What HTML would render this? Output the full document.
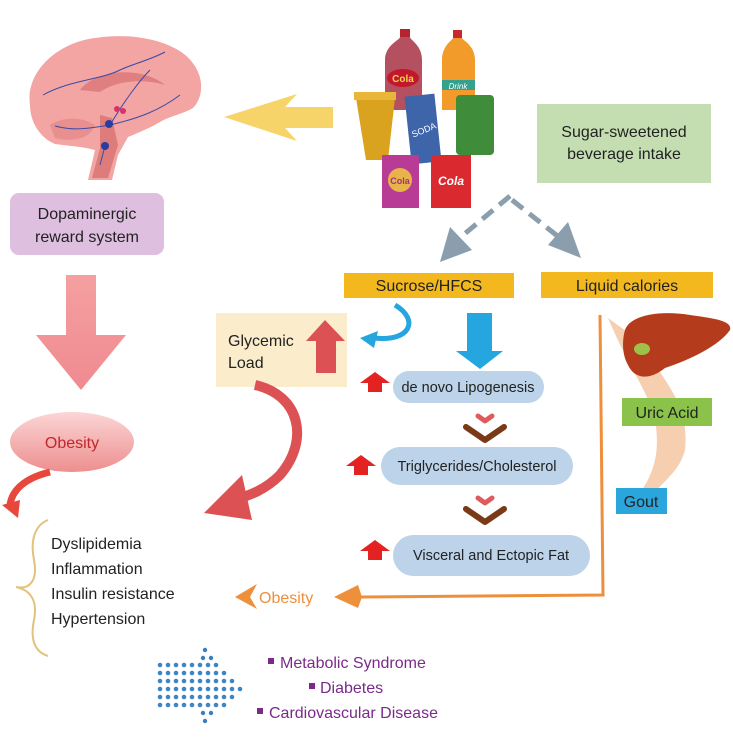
<!DOCTYPE html>
<html><head><meta charset="utf-8"><style>
html,body{margin:0;padding:0;background:#fff;}
svg{display:block;font-family:"Liberation Sans",sans-serif;}
</style></head><body>
<svg width="733" height="738" viewBox="0 0 733 738" xmlns="http://www.w3.org/2000/svg">
<defs>
<linearGradient id="ob" x1="0" y1="0" x2="0" y2="1"><stop offset="0" stop-color="#fbd6d6"/><stop offset="1" stop-color="#ee8e8e"/></linearGradient>
<linearGradient id="pk" x1="0" y1="0" x2="0" y2="1"><stop offset="0" stop-color="#f5a0a0"/><stop offset="1" stop-color="#ef8a90"/></linearGradient>
</defs>
<!-- Brain -->
<path d="M30,105 C25,70 60,42 95,38 C130,32 175,40 192,62 C205,78 203,98 193,108 C183,114 170,116 160,122 C150,128 140,132 128,137 L118,155 L112,180 L88,180 L95,150 C85,147 70,146 55,144 C40,138 30,122 30,105 Z" fill="#f3a5a3"/>
<path d="M80,90 C95,70 140,65 165,85 C150,80 120,78 100,92 Z" fill="#e07f7f"/>
<path d="M100,115 L112,118 L118,145 L108,178 L92,178 L100,148 Z" fill="#de7c7c"/>
<path d="M50,125 C60,118 80,115 95,125 C90,140 70,142 55,138 Z" fill="#e8908f"/>
<g stroke="#3a4aa8" stroke-width="1" fill="none">
<path d="M43,95 C70,80 100,80 120,70 C130,65 150,60 165,52"/><path d="M110,125 C125,100 140,80 150,70"/><path d="M110,125 C80,130 70,130 55,126"/><path d="M105,146 L100,165"/><path d="M110,125 C140,118 160,110 180,95"/>
</g>
<circle cx="109" cy="124" r="4" fill="#2a3ca0"/><circle cx="105" cy="146" r="4" fill="#2a3ca0"/><circle cx="117" cy="109" r="3" fill="#d8326a"/><circle cx="123" cy="111" r="3" fill="#d8326a"/>
<!-- yellow arrow -->
<polygon points="224,117 297,94 285,107 333,107 333,128 285,128 297,141" fill="#f7d469"/>
<!-- dopaminergic -->
<rect x="10" y="193" width="154" height="62" rx="9" fill="#dfbfe0"/>
<text x="87" y="219" font-size="16" text-anchor="middle" fill="#222">Dopaminergic</text>
<text x="87" y="242" font-size="16" text-anchor="middle" fill="#222">reward system</text>
<!-- pink down arrow -->
<polygon points="66,275 96,275 96,335 126,335 81,390 36,335 66,335" fill="url(#pk)"/>
<!-- obesity ellipse -->
<ellipse cx="72" cy="442" rx="62" ry="30" fill="url(#ob)"/>
<text x="72" y="448" font-size="16" text-anchor="middle" fill="#c0272d">Obesity</text>
<path d="M50,472 C25,478 12,490 10,505" stroke="#e8483b" stroke-width="7" fill="none"/>
<polygon points="2,505 20,500 18,518" fill="#e8483b"/>
<!-- brace -->
<path d="M48,520 C35,525 30,540 34,560 C38,580 30,590 16,587 C30,590 38,600 34,620 C30,640 35,652 48,656" stroke="#e3c27a" stroke-width="2" fill="none"/>
<g font-size="16" fill="#222">
<text x="51" y="549">Dyslipidemia</text><text x="51" y="574">Inflammation</text><text x="51" y="599">Insulin resistance</text><text x="51" y="624">Hypertension</text>
</g>
<!-- orange -->
<polygon points="235,597 257,584 250,597 257,609" fill="#ee8f3c"/>
<text x="259" y="603" font-size="16" fill="#ee8f3c">Obesity</text>
<path d="M600,315 L603,595 L360,597" stroke="#ee8f3c" stroke-width="3" fill="none"/>
<polygon points="334,597 358,585 362,597 358,608" fill="#ee8f3c"/>
<!-- dots arrow -->
<g fill="#3a7dc0">
<circle cx="205" cy="650" r="2.2"/><circle cx="203" cy="658" r="2.2"/><circle cx="211" cy="658" r="2.2"/>
<circle cx="205" cy="721" r="2.2"/><circle cx="203" cy="713" r="2.2"/><circle cx="211" cy="713" r="2.2"/>
</g>
<g fill="#3f86c6">
<circle cx="160" cy="665" r="2.3"/><circle cx="168" cy="665" r="2.3"/><circle cx="176" cy="665" r="2.3"/><circle cx="184" cy="665" r="2.3"/><circle cx="192" cy="665" r="2.3"/><circle cx="200" cy="665" r="2.3"/><circle cx="208" cy="665" r="2.3"/><circle cx="216" cy="665" r="2.3"/>
<circle cx="160" cy="673" r="2.3"/><circle cx="168" cy="673" r="2.3"/><circle cx="176" cy="673" r="2.3"/><circle cx="184" cy="673" r="2.3"/><circle cx="192" cy="673" r="2.3"/><circle cx="200" cy="673" r="2.3"/><circle cx="208" cy="673" r="2.3"/><circle cx="216" cy="673" r="2.3"/><circle cx="224" cy="673" r="2.3"/>
<circle cx="160" cy="681" r="2.3"/><circle cx="168" cy="681" r="2.3"/><circle cx="176" cy="681" r="2.3"/><circle cx="184" cy="681" r="2.3"/><circle cx="192" cy="681" r="2.3"/><circle cx="200" cy="681" r="2.3"/><circle cx="208" cy="681" r="2.3"/><circle cx="216" cy="681" r="2.3"/><circle cx="224" cy="681" r="2.3"/><circle cx="232" cy="681" r="2.3"/>
<circle cx="160" cy="689" r="2.3"/><circle cx="168" cy="689" r="2.3"/><circle cx="176" cy="689" r="2.3"/><circle cx="184" cy="689" r="2.3"/><circle cx="192" cy="689" r="2.3"/><circle cx="200" cy="689" r="2.3"/><circle cx="208" cy="689" r="2.3"/><circle cx="216" cy="689" r="2.3"/><circle cx="224" cy="689" r="2.3"/><circle cx="232" cy="689" r="2.3"/><circle cx="240" cy="689" r="2.3"/>
<circle cx="160" cy="697" r="2.3"/><circle cx="168" cy="697" r="2.3"/><circle cx="176" cy="697" r="2.3"/><circle cx="184" cy="697" r="2.3"/><circle cx="192" cy="697" r="2.3"/><circle cx="200" cy="697" r="2.3"/><circle cx="208" cy="697" r="2.3"/><circle cx="216" cy="697" r="2.3"/><circle cx="224" cy="697" r="2.3"/><circle cx="232" cy="697" r="2.3"/>
<circle cx="160" cy="705" r="2.3"/><circle cx="168" cy="705" r="2.3"/><circle cx="176" cy="705" r="2.3"/><circle cx="184" cy="705" r="2.3"/><circle cx="192" cy="705" r="2.3"/><circle cx="200" cy="705" r="2.3"/><circle cx="208" cy="705" r="2.3"/><circle cx="216" cy="705" r="2.3"/><circle cx="224" cy="705" r="2.3"/>
</g>
<g font-size="16" fill="#7b2a8a">
<rect x="268" y="658" width="6" height="6"/><text x="280" y="668">Metabolic Syndrome</text>
<rect x="309" y="683" width="6" height="6"/><text x="320" y="693">Diabetes</text>
<rect x="257" y="708" width="6" height="6"/><text x="269" y="718">Cardiovascular Disease</text>
</g>
<!-- beverages -->
<rect x="400" y="29" width="10" height="8" fill="#b5232e"/>
<path d="M385,60 C385,45 400,40 400,37 L410,37 C410,40 422,45 422,60 L422,110 L385,110 Z" fill="#b55060"/>
<ellipse cx="403" cy="78" rx="16" ry="9" fill="#c2182e"/><text x="403" y="82" font-size="10" font-weight="bold" text-anchor="middle" fill="#f6d04a">Cola</text>
<rect x="453" y="30" width="9" height="8" fill="#c9282e"/>
<path d="M442,60 C442,45 453,40 453,38 L462,38 C462,40 475,45 475,60 L475,110 L442,110 Z" fill="#f29a2a"/>
<rect x="442" y="80" width="33" height="10" fill="#36a08e"/><text x="458" y="89" font-size="8" font-style="italic" text-anchor="middle" fill="#fff">Drink</text>
<path d="M356,98 L395,98 L388,160 L366,160 Z" fill="#d9a320"/>
<rect x="354" y="92" width="42" height="8" fill="#e8b73a"/>
<rect x="408" y="95" width="30" height="68" fill="#3e64aa" transform="rotate(-6 423 129)"/>
<text x="424" y="133" font-size="9" text-anchor="middle" fill="#fff" transform="rotate(-22 424 130)">SODA</text>
<rect x="456" y="95" width="38" height="60" rx="4" fill="#3f8c3a"/>
<rect x="382" y="155" width="37" height="53" fill="#b83c95"/><circle cx="400" cy="180" r="12" fill="#e7b34a"/><text x="400" y="184" font-size="9" font-weight="bold" text-anchor="middle" fill="#a03080">Cola</text>
<rect x="431" y="155" width="40" height="53" fill="#da2a30"/><text x="451" y="185" font-size="12" font-style="italic" font-weight="bold" text-anchor="middle" fill="#fff">Cola</text>
<!-- green box -->
<rect x="537" y="104" width="174" height="79" fill="#c4deb2"/>
<text x="624" y="137" font-size="16" text-anchor="middle" fill="#222">Sugar-sweetened</text>
<text x="624" y="159" font-size="16" text-anchor="middle" fill="#222">beverage intake</text>
<!-- dashed arrows -->
<path d="M510,196 L462,236" stroke="#8a9eae" stroke-width="5" stroke-dasharray="14,8" fill="none"/>
<path d="M512,200 L560,238" stroke="#8a9eae" stroke-width="5" stroke-dasharray="14,8" fill="none"/>
<polygon points="440,262 450,227 472,250" fill="#8a9eae"/>
<polygon points="581,258 548,245 568,222" fill="#8a9eae"/>
<!-- yellow boxes -->
<rect x="344" y="273" width="170" height="25" fill="#f4b81f"/>
<text x="429" y="291" font-size="16" text-anchor="middle" fill="#222">Sucrose/HFCS</text>
<rect x="541" y="272" width="172" height="26" fill="#f4b81f"/>
<text x="627" y="291" font-size="16" text-anchor="middle" fill="#222">Liquid calories</text>
<!-- glycemic -->
<rect x="216" y="313" width="131" height="74" fill="#fbedcb"/>
<text x="228" y="346" font-size="16" fill="#222">Glycemic</text>
<text x="228" y="368" font-size="16" fill="#222">Load</text>
<polygon points="325,320 345,341 336,341 336,373 316,373 316,341 306,341" fill="#dc5154"/>
<!-- blue curved arrow -->
<path d="M395,305 C420,320 410,342 375,338" stroke="#26a6df" stroke-width="5" fill="none"/>
<polygon points="360,338 378,331 374,348" fill="#26a6df"/>
<!-- blue down arrow -->
<polygon points="467,313 492,313 492,351 503,351 480,369 456,351 467,351" fill="#26a6df"/>
<!-- pills -->
<rect x="393" y="371" width="151" height="32" rx="16" fill="#bcd3ea"/>
<text x="468" y="392" font-size="14.5" text-anchor="middle" fill="#222">de novo Lipogenesis</text>
<rect x="381" y="447" width="192" height="38" rx="19" fill="#bcd3ea"/>
<text x="477" y="471" font-size="14.5" text-anchor="middle" fill="#222">Triglycerides/Cholesterol</text>
<rect x="393" y="535" width="197" height="41" rx="20.5" fill="#bcd3ea"/>
<text x="491" y="560" font-size="14.5" text-anchor="middle" fill="#222">Visceral and Ectopic Fat</text>
<!-- small red arrows -->
<g fill="#e52222">
<polygon points="375,372 390,383 382,383 382,392 368,392 368,383 360,383"/>
<polygon points="361,455 376,466 368,466 368,475 354,475 354,466 346,466"/>
<polygon points="375,540 390,551 382,551 382,560 368,560 368,551 360,551"/>
</g>
<!-- chevrons -->
<g fill="none" stroke-linecap="round" stroke-linejoin="round">
<polyline points="478,416 485,421 492,416" stroke="#e05a5c" stroke-width="5"/>
<polyline points="466,427 485,440 504,427" stroke="#7a3a18" stroke-width="6"/>
<polyline points="478,498 485,503 492,498" stroke="#e05a5c" stroke-width="5"/>
<polyline points="466,509 485,522 504,509" stroke="#7a3a18" stroke-width="6"/>
</g>
<!-- big red curved arrow -->
<path d="M255,385 C300,395 310,440 280,475 C265,490 250,495 235,500" stroke="#dc5154" stroke-width="10" fill="none"/>
<polygon points="204,513 242,475 252,520" fill="#dc5154"/>
<!-- liver & gout -->
<path d="M645,345 C660,380 690,400 685,450 C680,470 665,480 655,492 L642,490 C655,470 660,450 655,420 C650,395 630,370 608,318" fill="#f6cfb1"/>
<path d="M625,330 C630,315 660,310 690,315 C710,318 733,320 730,330 C720,345 690,360 665,368 C650,380 635,380 628,365 C622,355 622,340 625,330 Z" fill="#b43c1c"/>
<ellipse cx="642" cy="349" rx="8" ry="6" fill="#9cc24a"/>
<rect x="622" y="398" width="90" height="28" fill="#8ac24a"/>
<text x="667" y="418" font-size="16" text-anchor="middle" fill="#222">Uric Acid</text>
<rect x="616" y="488" width="51" height="26" fill="#2aa6dc"/>
<text x="641" y="507" font-size="16" text-anchor="middle" fill="#222">Gout</text>
</svg>
</body></html>
